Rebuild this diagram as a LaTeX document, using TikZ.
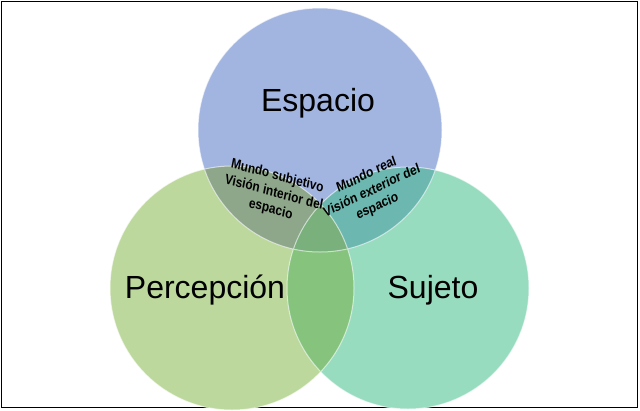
\documentclass[tikz,border=0pt]{standalone}
\usepackage{fontspec}
\setmainfont{Liberation Sans}
\begin{document}
\begin{tikzpicture}[x=1pt,y=-1pt,
  big/.style={font=\fontsize{32}{36}\selectfont},
  small/.style={font=\bfseries\fontsize{14}{17}\selectfont,align=center,xscale=0.85,inner sep=1pt}]
\useasboundingbox (0,0) rectangle (640,410);
\fill[white] (0,0) rectangle (640,410);
\draw[black,line width=1pt] (1,1) rectangle (637,407);
\def\cB{(320,130) circle (122)}
\def\cL{(232,288) circle (122)}
\def\cR{(408,288) circle (121)}
\fill[fill={rgb,255:red,188;green,216;blue,156}] \cL;
\fill[fill={rgb,255:red,152;green,220;blue,192}] \cR;
\fill[fill={rgb,255:red,162;green,181;blue,224}] \cB;
\begin{scope}\clip \cL; \fill[fill={rgb,255:red,134;green,196;blue,126}] \cR; \end{scope}
\begin{scope}\clip \cB; \fill[fill={rgb,255:red,142;green,166;blue,138}] \cL; \end{scope}
\begin{scope}\clip \cB; \fill[fill={rgb,255:red,108;green,184;blue,176}] \cR; \end{scope}
\begin{scope}\clip \cB; \clip \cL; \fill[fill={rgb,255:red,122;green,176;blue,124}] \cR; \end{scope}
\draw[white,opacity=0.6,line width=1pt] \cL \cR \cB;
\node[big] (esp) at (318,103) {Espacio};
\node[big] (per) at (205,290) {Percepción};
\node[big] (suj) at (433,290) {Sujeto};
\node[small,rotate=-13] (ms) at (274,193) {Mundo subjetivo\\Visión interior del\\espacio};
\node[small,rotate=22] (mr) at (372,191) {Mundo real\\Visión exterior del\\espacio};
\end{tikzpicture}
\end{document}
